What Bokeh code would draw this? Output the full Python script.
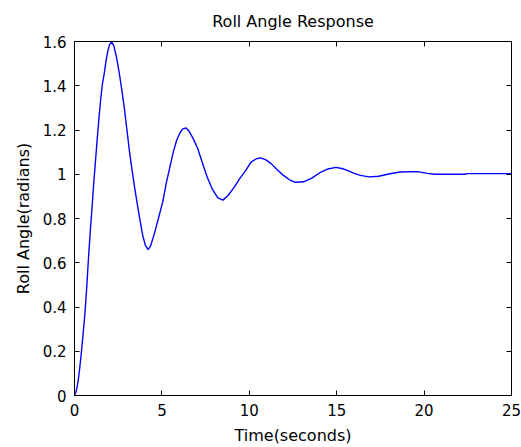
from bokeh.plotting import figure
from bokeh.models import Range1d, LinearAxis, FixedTicker, ColumnDataSource, CustomLabelingPolicy
from bokeh.embed import file_html
from bokeh.resources import INLINE

# ---- data ----
time_s = [0.00, 0.10, 0.20, 0.30, 0.40, 0.50, 0.60, 0.70, 0.80, 0.90,
          1.00, 1.10, 1.20, 1.30, 1.40, 1.50, 1.60, 1.70, 1.80, 1.90,
          2.00, 2.13, 2.25, 2.40, 2.55, 2.70, 2.85, 3.00, 3.15, 3.30,
          3.45, 3.60, 3.75, 3.90, 4.05, 4.21, 4.35, 4.55, 4.80, 5.05,
          5.25, 5.45, 5.65, 5.85, 6.05, 6.20, 6.38, 6.55, 6.80, 7.05,
          7.30, 7.60, 7.90, 8.20, 8.49, 8.80, 9.15, 9.45, 9.75, 10.10,
          10.40, 10.65, 10.95, 11.25, 11.60, 11.95, 12.30, 12.60, 13.10, 13.55,
          14.10, 14.50, 14.95, 15.30, 15.65, 16.00, 16.35, 16.85, 17.40, 18.05,
          18.65, 19.20, 19.70, 20.20, 20.60, 22.30, 22.50, 25.00]
roll_angle = [0.000, 0.020, 0.060, 0.125, 0.200, 0.285, 0.375, 0.490, 0.620, 0.740,
              0.845, 0.960, 1.060, 1.160, 1.255, 1.340, 1.410, 1.455, 1.510, 1.555,
              1.585, 1.598, 1.580, 1.530, 1.463, 1.385, 1.300, 1.200, 1.100, 1.015,
              0.935, 0.862, 0.790, 0.725, 0.680, 0.659, 0.675, 0.726, 0.800, 0.876,
              0.960, 1.030, 1.100, 1.155, 1.190, 1.205, 1.209, 1.195, 1.160, 1.116,
              1.055, 0.985, 0.930, 0.893, 0.883, 0.905, 0.943, 0.980, 1.012, 1.055,
              1.070, 1.074, 1.065, 1.048, 1.020, 0.995, 0.975, 0.964, 0.966, 0.981,
              1.010, 1.024, 1.031, 1.026, 1.016, 1.004, 0.995, 0.988, 0.991, 1.002,
              1.010, 1.012, 1.011, 1.004, 1.000, 1.000, 1.003, 1.003]

x_ticks = [0, 5, 10, 15, 20, 25]
x_tick_labels = ["0", "5", "10", "15", "20", "25"]
y_ticks = [0, 0.2, 0.4, 0.6, 0.8, 1.0, 1.2, 1.4, 1.6]
y_tick_labels = ["0", "0.2", "0.4", "0.6", "0.8", "1", "1.2", "1.4", "1.6"]

title_text = "Roll Angle Response"
x_label = "Time(seconds)"
y_label = "Roll Angle(radians)"

FONT = "DejaVu Sans"

source = ColumnDataSource(data=dict(t=time_s, y=roll_angle))

p = figure(width=521, height=447, output_backend="svg", toolbar_location=None,
           x_range=Range1d(0, 25), y_range=Range1d(0, 1.6),
           x_axis_location=None, y_axis_location=None,
           min_border_left=74, min_border_right=10, min_border_top=41, min_border_bottom=50,
           title=title_text)

p.background_fill_color = "white"
p.border_fill_color = "white"
p.outline_line_color = "black"
p.outline_line_width = 1
p.xgrid.visible = False
p.ygrid.visible = False

p.title.text_font = FONT
p.title.text_font_size = "16px"
p.title.text_font_style = "normal"
p.title.align = "center"
p.title.text_color = "black"
p.title.standoff = 14

no_labels = CustomLabelingPolicy(code="return new Set()")

def style_axis(ax, ticks, labels, show_labels):
    ax.ticker = FixedTicker(ticks=ticks)
    ax.major_tick_in = 5
    ax.major_tick_out = 0
    ax.minor_tick_line_color = None
    ax.axis_line_color = "black"
    ax.major_tick_line_color = "black"
    if show_labels:
        ax.major_label_overrides = {t: l for t, l in zip(ticks, labels)}
        ax.major_label_text_font = FONT
        ax.major_label_text_font_size = "15px"
        ax.major_label_text_color = "black"
        ax.major_label_standoff = 8
        ax.axis_label_text_font = FONT
        ax.axis_label_text_font_size = "16px"
        ax.axis_label_text_font_style = "normal"
        ax.axis_label_text_color = "black"
    else:
        ax.major_label_policy = no_labels
        ax.major_label_text_font_size = "1px"
        ax.major_label_standoff = 0

xb = LinearAxis(axis_label=x_label)
style_axis(xb, x_ticks, x_tick_labels, True)
xb.axis_label_standoff = 7
p.add_layout(xb, "below")

yl = LinearAxis(axis_label=y_label)
style_axis(yl, y_ticks, y_tick_labels, True)
yl.axis_label_standoff = 7
p.add_layout(yl, "left")

xt = LinearAxis()
style_axis(xt, x_ticks, x_tick_labels, False)
p.add_layout(xt, "above")

yr = LinearAxis()
style_axis(yr, y_ticks, y_tick_labels, False)
p.add_layout(yr, "right")

p.line("t", "y", source=source, line_color="#0000ff", line_width=1.4)

open("out.html", "w").write(file_html(p, INLINE))
